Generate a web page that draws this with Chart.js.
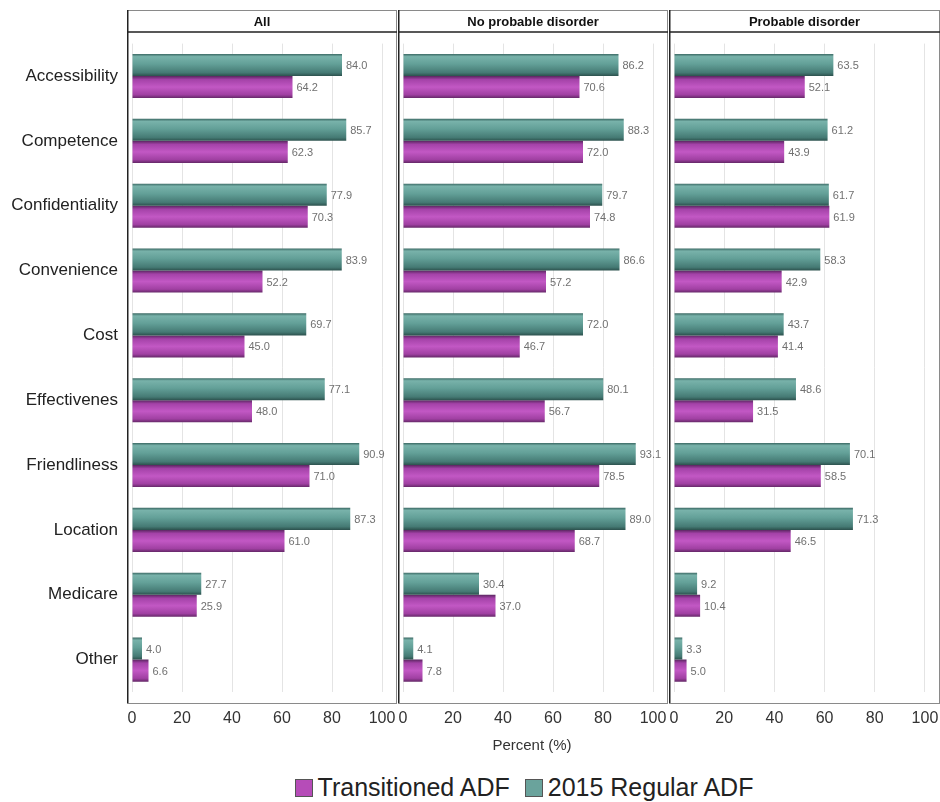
<!DOCTYPE html>
<html lang="en">
<head>
  <meta charset="UTF-8" />
  <title>Barriers to care</title>
  <script src="https://cdn.jsdelivr.net/npm/chart.js"></script>
  <style>
    body { margin: 0; background: #fff; width: 940px; height: 802px; position: relative; overflow: hidden;
           font-family: "Liberation Sans", Arial, sans-serif; }
    canvas { position: absolute; top: 0; }
    #xtitle { position: absolute; top: 736px; left: 0; width: 1064px; text-align: center; font-size: 15px; color: #333; }
    #legend { position: absolute; top: 773px; left: 0; width: 1040px; text-align: center; font-size: 25px; color: #222; }
    #legend span.sw { display: inline-block; width: 16px; height: 16px; border: 1px solid #555; margin: 0 5px 0 8px; vertical-align: -1px; }
  </style>
</head>
<body>
  <canvas id="c1"></canvas>
  <canvas id="c2"></canvas>
  <canvas id="c3"></canvas>
  <div id="xtitle">Percent (%)</div>
  <div id="legend">
    <span class="sw" style="background:#b64cb8"></span>Transitioned ADF
    <span class="sw" style="background:#6aa39c"></span>2015 Regular ADF
  </div>

  <script>
    const categories = ["Accessibility", "Competence", "Confidentiality", "Convenience", "Cost",
                        "Effectivenes", "Friendliness", "Location", "Medicare", "Other"];
    const panels = ["All", "No probable disorder", "Probable disorder"];
    const xTicks = [0, 20, 40, 60, 80, 100];

    // 2015 Regular ADF
    const regularAll = [84.0, 85.7, 77.9, 83.9, 69.7, 77.1, 90.9, 87.3, 27.7, 4.0];
    const regularNoDisorder = [86.2, 88.3, 79.7, 86.6, 72.0, 80.1, 93.1, 89.0, 30.4, 4.1];
    const regularDisorder = [63.5, 61.2, 61.7, 58.3, 43.7, 48.6, 70.1, 71.3, 9.2, 3.3];

    // Transitioned ADF
    const transAll = [64.2, 62.3, 70.3, 52.2, 45.0, 48.0, 71.0, 61.0, 25.9, 6.6];
    const transNoDisorder = [70.6, 72.0, 74.8, 57.2, 46.7, 56.7, 78.5, 68.7, 37.0, 7.8];
    const transDisorder = [52.1, 43.9, 61.9, 42.9, 41.4, 31.5, 58.5, 46.5, 10.4, 5.0];

    const CAT_PCT = 0.68;
    const FRAME_TOP = 10, HEAD_BOTTOM = 32, FRAME_BOTTOM = 703;

    const tealStops = [[0, "#3b6964"], [0.12, "#78b2aa"], [0.45, "#63a098"], [0.85, "#457a74"], [1, "#2c514d"]];
    const magStops = [[0, "#5a2660"], [0.16, "#a442a8"], [0.5, "#c258c4"], [0.85, "#a040a2"], [1, "#652868"]];

    // vertical gradient for each bar, computed from the category scale
    function barFill(stops, flat, slot) {
      return function (c) {
        if (c.type !== "data") return flat;
        const y = c.chart.scales.y;
        if (!y) return flat;
        const center = y.getPixelForValue(c.dataIndex);
        const step = Math.abs(y.getPixelForValue(1) - y.getPixelForValue(0));
        if (!isFinite(center) || !isFinite(step) || step === 0) return flat;
        const half = step * CAT_PCT / 2;
        const top = slot === 0 ? center - half : center;
        const g = c.chart.ctx.createLinearGradient(0, top, 0, top + half);
        stops.forEach(s => g.addColorStop(s[0], s[1]));
        return g;
      };
    }

    const framePlugin = {
      id: "frame",
      afterDraw(chart) {
        const ctx = chart.ctx;
        const a = chart.chartArea;
        ctx.save();
        // value labels
        ctx.font = "11px 'Liberation Sans', Arial, sans-serif";
        ctx.fillStyle = "#707070";
        ctx.textBaseline = "middle";
        chart.data.datasets.forEach((ds, di) => {
          chart.getDatasetMeta(di).data.forEach((el, i) => {
            ctx.fillText(ds.data[i].toFixed(1), el.x + 4, el.y + 1);
          });
        });
        // frame and strip
        ctx.strokeStyle = "#8a8a8a";
        ctx.lineWidth = 1;
        ctx.strokeRect(a.left + 0.5, FRAME_TOP + 0.5, a.right - a.left - 1, FRAME_BOTTOM - FRAME_TOP);
        ctx.strokeStyle = "#222";
        ctx.lineWidth = 1.5;
        ctx.beginPath();
        ctx.moveTo(a.left, HEAD_BOTTOM);
        ctx.lineTo(a.right, HEAD_BOTTOM);
        ctx.moveTo(a.left + 0.75, FRAME_TOP);
        ctx.lineTo(a.left + 0.75, FRAME_BOTTOM);
        ctx.stroke();
        ctx.fillStyle = "#111";
        ctx.font = "bold 13px 'Liberation Sans', Arial, sans-serif";
        ctx.textAlign = "center";
        ctx.fillText(chart.options.plugins.frame.title, (a.left + a.right) / 2, (FRAME_TOP + HEAD_BOTTOM) / 2 + 1);
        ctx.restore();
      }
    };

    function makePanel(id, left, width, title, regular, trans, showLabels) {
      const cv = document.getElementById(id);
      cv.style.left = left + "px";
      cv.width = width;
      cv.height = 740;
      cv.style.width = width + "px";
      cv.style.height = "740px";
      return new Chart(cv.getContext("2d"), {
        type: "bar",
        data: {
          labels: categories,
          datasets: [
            {
              label: "2015 Regular ADF",
              data: regular,
              backgroundColor: barFill(tealStops, "#6aa39c", 0),
              categoryPercentage: CAT_PCT,
              barPercentage: 1
            },
            {
              label: "Transitioned ADF",
              data: trans,
              backgroundColor: barFill(magStops, "#b64cb8", 1),
              categoryPercentage: CAT_PCT,
              barPercentage: 1
            }
          ]
        },
        options: {
          indexAxis: "y",
          responsive: false,
          animation: false,
          layout: { padding: { top: 43.6, bottom: 0, left: 0, right: 0 } },
          plugins: {
            legend: { display: false },
            tooltip: { enabled: false },
            frame: { title: title }
          },
          scales: {
            x: {
              min: -2,
              max: 106,
              afterBuildTicks: s => { s.ticks = xTicks.map(v => ({ value: v })); },
              afterFit: s => { s.height = 48; },
              grid: { color: "#e4e4e4", drawTicks: false },
              border: { display: false },
              ticks: {
                padding: 0,
                color: "#333",
                // tall line height pushes the labels down below the frame
                font: { size: 16, lineHeight: 3.3, family: "'Liberation Sans', Arial, sans-serif" }
              }
            },
            y: {
              display: showLabels,
              afterFit: s => { if (showLabels) s.width = 127; },
              grid: { display: false, drawTicks: false },
              border: { display: false },
              ticks: {
                padding: 9,
                color: "#222",
                font: { size: 17, family: "'Liberation Sans', Arial, sans-serif" }
              }
            }
          }
        },
        plugins: [framePlugin]
      });
    }

    makePanel("c1", 0, 397, panels[0], regularAll, transAll, true);
    makePanel("c2", 398, 270, panels[1], regularNoDisorder, transNoDisorder, false);
    makePanel("c3", 669, 271, panels[2], regularDisorder, transDisorder, false);
  </script>
</body>
</html>
